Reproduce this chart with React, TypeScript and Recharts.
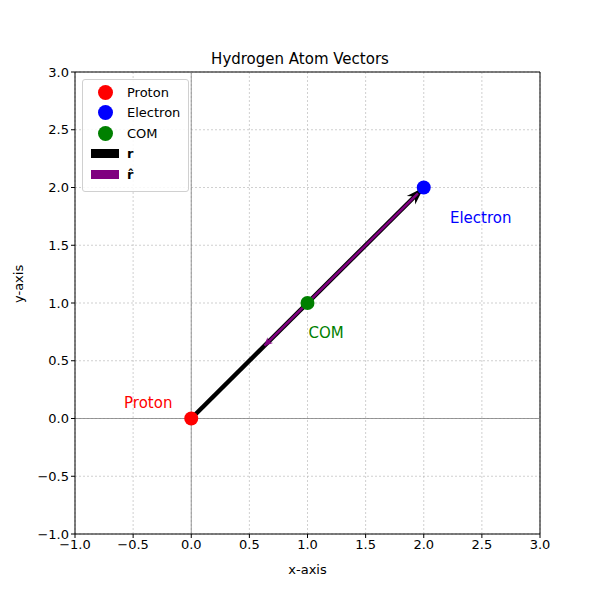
import React from 'react';
import { ComposedChart, Scatter, XAxis, YAxis, CartesianGrid, ReferenceLine, ReferenceDot } from 'recharts';

const ticks = [-1, -0.5, 0, 0.5, 1, 1.5, 2, 2.5, 3];
const proton = [{ x: 0, y: 0 }];
const electron = [{ x: 2, y: 2 }];
const com = [{ x: 1, y: 1 }];
const rVec = { from: [0, 0], to: [2, 2] };
const rHat = { from: [0.63, 0.63], to: [1.95, 1.95] };
const labels = [
  { name: 'Proton', x: -0.37, y: 0.14, color: 'red' },
  { name: 'Electron', x: 2.49, y: 1.74, color: 'blue' },
  { name: 'COM', x: 1.16, y: 0.74, color: 'green' },
];
const fmt = (v: number) => v.toFixed(1).replace('-', '\u2212');
const font = 'DejaVu Sans, sans-serif';

const Arrow = (color: string, w: number, head: 'end' | 'start', hl: number, hw: number) => (p: any) => {
  const { x1, y1, x2, y2 } = p;
  if (x1 == null) return null;
  const dx = x2 - x1, dy = y2 - y1;
  const L = Math.hypot(dx, dy);
  const ux = dx / L, uy = dy / L;
  const px = -uy, py = ux;
  let tip, dir;
  if (head === 'end') { tip = [x2, y2]; dir = [ux, uy]; } else { tip = [x1, y1]; dir = [-ux, -uy]; }
  const bx = tip[0] - dir[0] * hl, by = tip[1] - dir[1] * hl;
  const nx = tip[0] - dir[0] * hl * 0.7, ny = tip[1] - dir[1] * hl * 0.7;
  const pts = `${tip[0]},${tip[1]} ${bx + px * hw},${by + py * hw} ${nx},${ny} ${bx - px * hw},${by - py * hw}`;
  return (
    <g>
      <line x1={x1} y1={y1} x2={x2} y2={y2} stroke={color} strokeWidth={w} />
      <polygon points={pts} fill={color} />
    </g>
  );
};

const legendItems = [
  { label: 'Proton', color: 'red', type: 'dot' },
  { label: 'Electron', color: 'blue', type: 'dot' },
  { label: 'COM', color: 'green', type: 'dot' },
  { label: 'r', color: 'black', type: 'bar' },
  { label: 'r\u0302', color: 'purple', type: 'bar' },
];

export default function App() {
  return (
    <div style={{ position: 'relative', width: 600, height: 600, margin: -8, fontFamily: font }}>
      <div style={{ position: 'absolute', top: 50, left: 0, width: 600, textAlign: 'center', fontSize: 15 }}>Hydrogen Atom Vectors</div>
      <ComposedChart width={600} height={600} margin={{ top: 72, right: 60, left: 35, bottom: 36 }}>
        <CartesianGrid stroke="#b0b0b0" strokeDasharray="2 2" strokeWidth={0.6} />
        <XAxis type="number" dataKey="x" domain={[-1, 3]} ticks={ticks} tickFormatter={fmt} height={30}
          stroke="black" tick={{ fill: 'black', fontSize: 13, fontFamily: font }} tickSize={4}
          label={{ value: 'x-axis', position: 'insideBottom', offset: -10, fill: 'black', fontSize: 13, fontFamily: font }} />
        <YAxis type="number" dataKey="y" domain={[-1, 3]} ticks={ticks} tickFormatter={fmt} width={40}
          stroke="black" tick={{ fill: 'black', fontSize: 13, fontFamily: font }} tickSize={4}
          label={{ value: 'y-axis', angle: -90, position: 'insideLeft', offset: -17, fill: 'black', fontSize: 13, fontFamily: font }} />
        <ReferenceLine x={3} stroke="black" />
        <ReferenceLine y={3} stroke="black" />
        <ReferenceLine x={0} stroke="#808080" strokeWidth={0.8} />
        <ReferenceLine y={0} stroke="#808080" strokeWidth={0.8} />
        <Scatter data={proton} fill="red" isAnimationActive={false} shape={(p: any) => <circle cx={p.cx} cy={p.cy} r={7} fill="red" />} />
        <Scatter data={electron} fill="blue" isAnimationActive={false} shape={(p: any) => <circle cx={p.cx} cy={p.cy} r={7} fill="blue" />} />
        <Scatter data={com} fill="green" isAnimationActive={false} shape={(p: any) => <circle cx={p.cx} cy={p.cy} r={7} fill="green" />} />
        <ReferenceLine segment={[{ x: rVec.from[0], y: rVec.from[1] }, { x: rVec.to[0], y: rVec.to[1] }]} shape={Arrow('black', 4.5, 'end', 18, 6)} ifOverflow="visible" />
        <ReferenceLine segment={[{ x: rHat.from[0], y: rHat.from[1] }, { x: rHat.to[0], y: rHat.to[1] }]} shape={Arrow('purple', 2.5, 'start', 8, 4)} ifOverflow="visible" />
        {labels.map((l) => (
          <ReferenceDot key={l.name} x={l.x} y={l.y} r={0} ifOverflow="visible"
            label={{ value: l.name, position: 'center', fill: l.color, fontSize: 15, fontFamily: font }} />
        ))}
      </ComposedChart>
      <div style={{ position: 'absolute', left: 82, top: 79, width: 107, height: 113, border: '1px solid #d0d0d0', borderRadius: 3, background: 'rgba(255,255,255,0.85)', boxSizing: 'border-box' }}>
        {legendItems.map((it, i) => (
          <div key={i} style={{ position: 'absolute', top: 3 + i * 20.5, left: 0, height: 18, display: 'flex', alignItems: 'center', fontSize: 13 }}>
            <div style={{ width: 44, display: 'flex', justifyContent: 'center' }}>
              {it.type === 'dot'
                ? <div style={{ width: 15, height: 15, borderRadius: '50%', background: it.color }} />
                : <div style={{ width: 28, height: 9, background: it.color }} />}
            </div>
            <span style={{ fontWeight: it.type === 'bar' ? 'bold' : 'normal' }}>{it.label}</span>
          </div>
        ))}
      </div>
    </div>
  );
}
